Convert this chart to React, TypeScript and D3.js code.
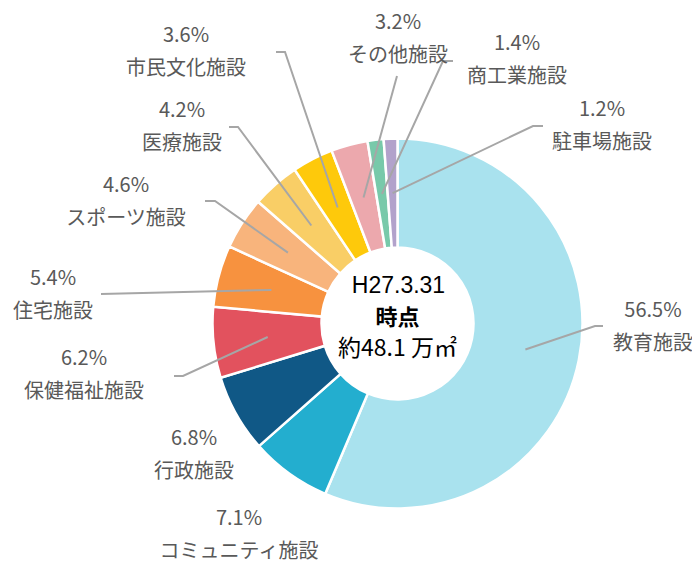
import React from "react";
import * as d3 from "d3";

// 施設用途別の延床面積構成比 (H27.3.31時点)
const categories = [
  "教育施設",
  "コミュニティ施設",
  "行政施設",
  "保健福祉施設",
  "住宅施設",
  "スポーツ施設",
  "医療施設",
  "市民文化施設",
  "その他施設",
  "商工業施設",
  "駐車場施設",
];
const shares = [56.5, 7.1, 6.8, 6.2, 5.4, 4.6, 4.2, 3.6, 3.2, 1.4, 1.2];
const colors = [
  "#a9e2ee",
  "#23aecf",
  "#105886",
  "#e2525e",
  "#f7923f",
  "#f8b47c",
  "#f9ce66",
  "#fec90b",
  "#eca8ad",
  "#78c9aa",
  "#b2a2cb",
];
const centerLines = ["H27.3.31", "時点", "約48.1 万㎡"];

// label layout: text centre and leader start / elbow (null = no leader)
const labelPos: [number, number][] = [
  [653, 310],
  [239, 518],
  [194, 438],
  [84, 358],
  [53, 278],
  [126, 185],
  [182, 110],
  [186, 35],
  [398, 22],
  [517, 43],
  [602, 109],
];
const leaders: ([number, number][] | null)[] = [
  [[603, 326], [595, 326]],
  null,
  null,
  [[174, 376], [183, 376]],
  [[101, 294]],
  [[205, 201], [215, 201]],
  [[229, 127], [238, 127]],
  [[276, 52], [285, 52]],
  [[397, 76]],
  [[453, 61], [443, 61]],
  [[543, 126], [533, 126]],
];

export default function App() {
  const width = 692,
    height = 563;
  const cx = 397.5,
    cy = 323.5;
  const outerR = 185,
    innerR = 76;

  const pie = d3
    .pie<number>()
    .sort(null)
    .value((d) => d)
    .startAngle(0)
    .endAngle(2 * Math.PI);
  const arcs = pie(shares);
  const arc = d3.arc<d3.PieArcDatum<number>>().innerRadius(innerR).outerRadius(outerR);
  const midArc = d3
    .arc<d3.PieArcDatum<number>>()
    .innerRadius((innerR + outerR) / 2)
    .outerRadius((innerR + outerR) / 2);
  const line = d3.line();

  const font = "'Noto Sans CJK JP', 'Noto Sans', sans-serif";

  return (
    <svg
      width={width}
      height={height}
      style={{ position: "absolute", left: 0, top: 0, background: "#fff" }}
      fontFamily={font}
    >
      <g transform={`translate(${cx},${cy})`}>
        {arcs.map((a, i) => (
          <path key={i} d={arc(a) || ""} fill={colors[i]} stroke="#fff" strokeWidth={2.5} />
        ))}
      </g>
      {arcs.map((a, i) => {
        const pts = leaders[i];
        if (!pts) return null;
        const [mx, my] = midArc.centroid(a);
        const all: [number, number][] = [...pts, [cx + mx, cy + my]];
        return (
          <path key={"l" + i} d={line(all) || ""} fill="none" stroke="#a6a6a6" strokeWidth={2} />
        );
      })}
      {categories.map((c, i) => (
        <g key={"t" + i} fill="#595959" fontSize={20} textAnchor="middle">
          <text x={labelPos[i][0]} y={labelPos[i][1]} dy="0.35em">
            {shares[i].toFixed(1)}%
          </text>
          <text x={labelPos[i][0]} y={labelPos[i][1] + 33} dy="0.35em">
            {c}
          </text>
        </g>
      ))}
      <g textAnchor="middle" fill="#000">
        <text
          x={cx + 1}
          y={285}
          dy="0.35em"
          fontSize={23}
          fontFamily="'Liberation Sans', Arial, sans-serif"
        >
          {centerLines[0]}
        </text>
        <text x={cx} y={317} dy="0.35em" fontSize={22} fontWeight={700}>
          {centerLines[1]}
        </text>
        <text x={cx} y={348} dy="0.35em" fontSize={23}>
          {centerLines[2]}
        </text>
      </g>
    </svg>
  );
}
